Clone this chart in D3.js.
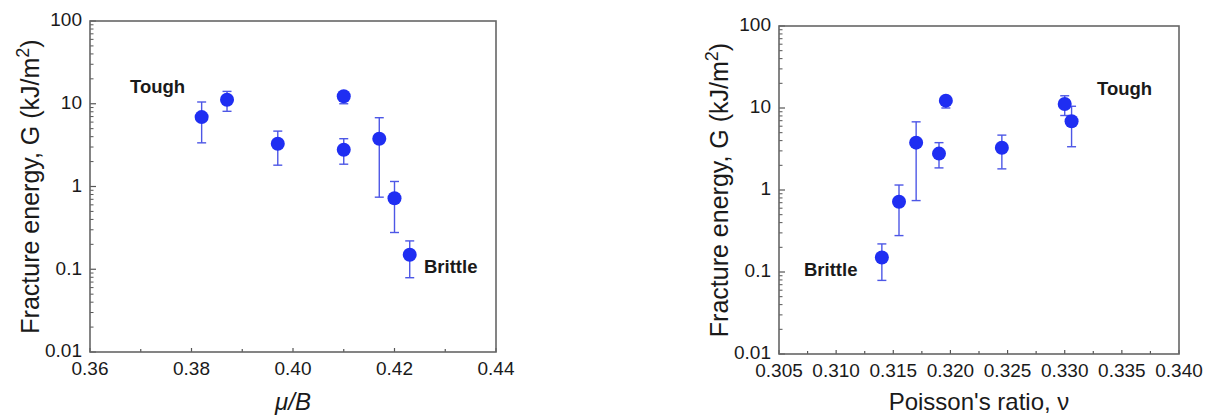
<!DOCTYPE html>
<html><head><meta charset="utf-8">
<script src="https://cdn.jsdelivr.net/npm/d3@7"></script>
<style>body{margin:0;background:#fff}svg{display:block;font-family:Arial,"Liberation Sans",sans-serif}</style>
</head><body>
<svg id="c" width="1213" height="417"></svg>
<script>
// Shared fracture energy data (kJ/m^2)
const G      = [6.9, 11.2, 3.28, 12.3, 2.78, 3.78, 0.72, 0.15];
const Gupper = [10.5, 14.1, 4.67, 13.6, 3.78, 6.78, 1.15, 0.22];
const Glower = [3.37, 8.1, 1.81, 10.0, 1.86, 0.743, 0.278, 0.079];
// x values for each panel
const muB     = [0.382, 0.387, 0.397, 0.410, 0.410, 0.417, 0.420, 0.423];
const poisson = [0.3306, 0.330, 0.3245, 0.3196, 0.319, 0.317, 0.3155, 0.314];
// tick labels
const yTicks = [0.01, 0.1, 1, 10, 100];
const yTickLabels = ["0.01", "0.1", "1", "10", "100"];
const xTicksLeft = [0.36, 0.38, 0.40, 0.42, 0.44];
const xTicksRight = [0.305, 0.310, 0.315, 0.320, 0.325, 0.330, 0.335, 0.340];

const svg = d3.select("#c");
const textColor = "#1a1a1a";

function panel(o) {
  const g = svg.append("g");
  const x = d3.scaleLinear().domain(o.xDomain).range([o.left, o.right]);
  const y = d3.scaleLog().domain([0.01, 100]).range([o.bottom, o.top]);

  // minor y ticks (log)
  const minors = [];
  for (let e = -2; e < 2; e++) for (let m = 2; m <= 9; m++) minors.push(m * Math.pow(10, e));
  g.selectAll(".ym").data(minors).join("line")
    .attr("x1", o.left).attr("x2", o.left + 3.5)
    .attr("y1", d => y(d)).attr("y2", d => y(d))
    .attr("stroke", "#555").attr("stroke-width", 1);
  g.selectAll(".yM").data(yTicks).join("line")
    .attr("x1", o.left).attr("x2", o.left + 6)
    .attr("y1", d => y(d)).attr("y2", d => y(d))
    .attr("stroke", "#555").attr("stroke-width", 1.2);
  // x ticks
  g.selectAll(".xM").data(o.xTicks).join("line")
    .attr("x1", d => x(d)).attr("x2", d => x(d))
    .attr("y1", o.bottom).attr("y2", o.bottom - 4)
    .attr("stroke", "#555").attr("stroke-width", 1.2);
  g.selectAll(".xm").data(o.xMinor).join("line")
    .attr("x1", d => x(d)).attr("x2", d => x(d))
    .attr("y1", o.bottom).attr("y2", o.bottom - 3)
    .attr("stroke", "#555").attr("stroke-width", 1.2);

  // frame
  g.append("rect").attr("x", o.left).attr("y", o.top)
    .attr("width", o.right - o.left).attr("height", o.bottom - o.top)
    .attr("fill", "none").attr("stroke", "#666").attr("stroke-width", 1.6);

  // tick labels
  g.selectAll(".yl").data(yTicks).join("text")
    .attr("x", o.left - 8).attr("y", d => y(d)).attr("dy", "0.28em")
    .attr("text-anchor", "end").attr("font-size", 19).attr("fill", textColor)
    .text((d, i) => yTickLabels[i]);
  g.selectAll(".xl").data(o.xTicks).join("text")
    .attr("x", d => x(d)).attr("y", o.bottom + 23)
    .attr("text-anchor", "middle").attr("font-size", 19).attr("fill", textColor)
    .text(d => d3.format(o.fmt)(d));

  // axis titles
  const yt = g.append("text")
    .attr("transform", `translate(${o.left - 51},${(o.top + o.bottom) / 2}) rotate(-90)`)
    .attr("text-anchor", "middle").attr("font-size", 25).attr("fill", textColor);
  yt.append("tspan").text("Fracture energy,  G (kJ/m");
  yt.append("tspan").attr("font-size", 18).attr("dy", -10).text("2");
  yt.append("tspan").attr("dy", 10).text(")");

  o.xTitle(g.append("text").attr("x", o.xTitleX).attr("y", 410)
    .attr("text-anchor", "middle").attr("font-size", 24).attr("fill", textColor));

  // error bars
  const eb = g.append("g").attr("stroke", "#4d57e6").attr("stroke-width", 1.4);
  o.xs.forEach((xv, i) => {
    const cx = x(xv);
    eb.append("line").attr("x1", cx).attr("x2", cx).attr("y1", y(Gupper[i])).attr("y2", y(Glower[i]));
    eb.append("line").attr("x1", cx - 4.5).attr("x2", cx + 4.5).attr("y1", y(Gupper[i])).attr("y2", y(Gupper[i]));
    eb.append("line").attr("x1", cx - 4.5).attr("x2", cx + 4.5).attr("y1", y(Glower[i])).attr("y2", y(Glower[i]));
  });
  // points
  g.selectAll(".pt").data(o.xs).join("circle")
    .attr("cx", d => x(d)).attr("cy", (d, i) => y(G[i])).attr("r", 7)
    .attr("fill", "#1f2ef2");

  // annotations
  o.notes.forEach(n => {
    g.append("text").attr("x", n.x).attr("y", n.y)
      .attr("font-size", 18.5).attr("font-weight", "bold").attr("fill", textColor)
      .text(n.t);
  });
}

panel({
  left: 90, right: 496, top: 21, bottom: 352,
  xDomain: [0.36, 0.44], xTicks: xTicksLeft,
  xMinor: [0.37, 0.39, 0.41, 0.43], fmt: ".2f", xs: muB,
  xTitleX: 293,
  xTitle: t => t.append("tspan").attr("font-style", "italic").text("\u03BC/B"),
  notes: [{t: "Tough", x: 130, y: 93}, {t: "Brittle", x: 424, y: 273}]
});
panel({
  left: 779, right: 1179, top: 26, bottom: 354,
  xDomain: [0.305, 0.340], xTicks: xTicksRight,
  xMinor: [0.3075, 0.3125, 0.3175, 0.3225, 0.3275, 0.3325, 0.3375], fmt: ".3f", xs: poisson,
  xTitleX: 979,
  xTitle: t => t.text("Poisson's ratio, \u03BD"),
  notes: [{t: "Tough", x: 1097, y: 95}, {t: "Brittle", x: 804, y: 276}]
});
</script>
</body></html>
